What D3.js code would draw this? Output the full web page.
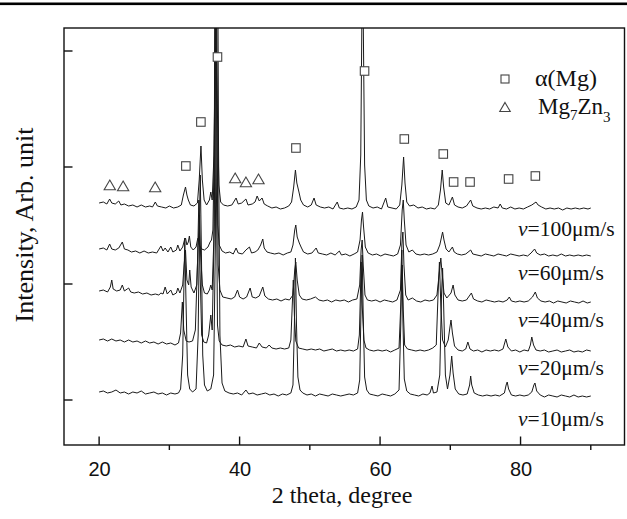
<!DOCTYPE html>
<html><head><meta charset="utf-8">
<script src="https://cdn.jsdelivr.net/npm/d3@7"></script>
<style>body{margin:0;background:#fff}svg{display:block}</style>
</head><body>
<svg id="c" width="627" height="519"></svg>
<script>
// ---- data (2theta in degrees, intensity in arbitrary units, traces offset) ----
const xMajorTicks = [20, 40, 60, 80];
const xMinorTicks = [30, 50, 70, 90];
const yTicks = [45, 161, 278, 394];
const speeds = ["100", "60", "40", "20", "10"];

const trace10 = [[20,53],[20.6,54],[21.2,52],[21.8,53],[22.4,55],[23,52],[23.6,53],[24.2,51],[24.8,53],[25.4,52],[26,54],[26.6,51],[27.2,52],[27.8,53],[28.4,51],[29,52],[29.6,50],[30.2,52],[30.8,51],[31.3,52],[31.6,56],[31.9,90],[32.1,170],[32.2,207],[32.35,150],[32.6,70],[32.9,56],[33.3,53],[33.8,56],[34.1,110],[34.3,230],[34.4,270],[34.55,200],[34.75,90],[35,60],[35.4,54],[35.9,56],[36.3,70],[36.55,200],[36.75,520],[36.85,560],[37,300],[37.2,110],[37.5,62],[37.9,54],[38.5,52],[39.1,51],[39.7,52],[40.3,50],[40.9,55],[41.3,51],[41.9,52],[42.5,50],[43.1,51],[43.7,52],[44.3,50],[44.9,51],[45.5,49],[46.1,51],[46.7,50],[47.3,52],[47.6,60],[47.8,120],[47.95,187],[48.1,120],[48.3,68],[48.6,55],[49,52],[49.6,50],[50.2,51],[50.8,49],[51.4,51],[52,50],[52.6,49],[53.2,51],[53.8,50],[54.4,49],[55,50],[55.6,51],[56.2,50],[56.8,52],[57.1,65],[57.3,140],[57.45,190],[57.6,130],[57.8,68],[58.1,55],[58.5,51],[59.1,50],[59.7,49],[60.3,51],[60.9,50],[61.5,49],[62.1,51],[62.7,55],[62.95,120],[63.1,195],[63.25,125],[63.45,66],[63.8,54],[64.3,51],[64.9,50],[65.5,49],[66.1,51],[66.7,50],[67.1,52],[67.4,59],[67.6,52],[68.1,53],[68.5,70],[68.75,150],[68.9,177],[69.05,140],[69.3,70],[69.6,56],[69.95,70],[70.2,89],[70.4,72],[70.7,56],[71.2,51],[71.8,50],[72.4,51],[72.75,60],[72.9,69],[73.05,60],[73.4,52],[74,50],[74.6,49],[75.2,50],[75.8,49],[76.4,50],[77,49],[77.7,52],[77.95,60],[78.1,63],[78.3,56],[78.7,50],[79.3,49],[79.9,50],[80.5,49],[81.1,50],[81.6,53],[81.9,60],[82.05,62],[82.3,54],[82.8,50],[83.4,48],[84,50],[84.6,49],[85.2,48],[85.8,50],[86.4,49],[87,48],[87.6,50],[88.2,48],[88.8,49],[89.4,48],[90,49]];

const trace20 = [[20,105],[20.6,106],[21.2,104],[21.8,106],[22.4,104],[23,105],[23.6,103],[24.2,105],[24.8,103],[25.4,104],[26,102],[26.6,104],[27.2,102],[27.8,103],[28.4,101],[29,103],[29.6,101],[30.2,102],[30.8,100],[31.3,102],[31.6,112],[31.85,143],[32.05,115],[32.4,104],[32.8,103],[33.3,104],[33.7,115],[34.0,180],[34.2,245],[34.35,180],[34.6,110],[34.9,103],[35.3,102],[35.6,110],[35.9,130],[36.1,115],[36.35,200],[36.5,500],[36.65,300],[36.85,120],[37.1,104],[37.5,100],[38.1,99],[38.7,100],[39.3,98],[39.9,99],[40.5,98],[40.9,106],[41.2,99],[41.8,98],[42.4,97],[42.8,102],[43.2,98],[43.8,97],[44.2,100],[44.6,97],[45.2,96],[45.8,97],[46.4,96],[47,97],[47.3,105],[47.5,140],[47.65,165],[47.8,130],[48,104],[48.4,97],[49,96],[49.6,95],[50.2,96],[50.8,95],[51.4,96],[52,94],[52.6,95],[53.2,96],[53.8,94],[54.4,95],[55,94],[55.6,95],[56.2,94],[56.8,96],[57.05,110],[57.2,150],[57.3,183],[57.45,140],[57.7,105],[58,97],[58.5,95],[59.1,94],[59.7,95],[60.3,94],[60.9,95],[61.5,93],[62.1,95],[62.7,97],[62.95,140],[63.15,180],[63.3,135],[63.5,100],[63.9,96],[64.5,95],[65.1,94],[65.7,95],[66.3,94],[66.9,95],[67.5,97],[68,100],[68.25,150],[68.45,183],[68.65,140],[68.9,105],[69.3,98],[69.7,105],[69.95,118],[70.1,125],[70.3,112],[70.6,99],[71.1,95],[71.7,94],[72.2,96],[72.5,103],[72.8,96],[73.3,94],[73.9,95],[74.5,93],[75.1,95],[75.7,94],[76.3,95],[76.9,94],[77.5,96],[77.9,106],[78.2,98],[78.7,94],[79.3,95],[79.9,93],[80.5,95],[81.1,94],[81.4,100],[81.6,108],[81.85,100],[82.2,95],[82.8,94],[83.4,95],[84,93],[84.6,94],[85.2,95],[85.8,93],[86.4,94],[87,95],[87.6,93],[88.2,94],[88.8,93],[89.4,95],[90,94]];

const trace40 = [[20,154],[20.6,155],[21.2,153],[21.6,158],[21.8,165],[22,156],[22.5,154],[23,155],[23.3,160],[23.6,154],[24,156],[24.2,157],[24.5,153],[25,152],[25.6,153],[26.2,151],[26.8,152],[27.4,150],[28,151],[28.5,150],[28.8,152],[29.1,151],[29.4,158],[29.7,151],[30.2,155],[30.5,150],[31,152],[31.2,157],[31.5,152],[31.9,160],[32.1,180],[32.3,195],[32.5,165],[32.75,160],[32.9,175],[33.1,158],[33.5,152],[33.9,160],[34.1,200],[34.3,230],[34.45,190],[34.7,160],[35,152],[35.4,151],[35.7,155],[35.9,160],[36.1,155],[36.4,220],[36.6,450],[36.75,350],[36.95,180],[37.2,155],[37.6,148],[38.2,147],[38.8,146],[39.3,148],[39.7,155],[40,148],[40.5,146],[41,148],[41.5,157],[41.8,148],[42.3,147],[42.8,149],[43.3,158],[43.6,149],[44.1,146],[44.7,145],[45.3,146],[45.9,144],[46.5,146],[47.1,145],[47.6,150],[47.85,175],[48.0,183],[48.2,165],[48.5,150],[48.9,146],[49.5,145],[50.1,146],[50.8,148],[51.3,145],[51.9,144],[52.5,145],[53.1,143],[53.7,145],[54.3,144],[54.9,145],[55.5,143],[56.1,145],[56.7,146],[57.1,160],[57.3,195],[57.45,205],[57.6,180],[57.85,150],[58.2,145],[58.8,144],[59.4,145],[60,143],[60.6,145],[61.2,144],[61.8,143],[62.4,145],[62.9,155],[63.1,200],[63.25,213],[63.4,180],[63.65,150],[64,145],[64.6,147],[65.2,144],[65.8,143],[66.4,145],[67,144],[67.6,145],[68.1,150],[68.4,170],[68.65,187],[68.85,170],[69.1,152],[69.5,147],[70.1,152],[70.4,160],[70.65,150],[71.1,145],[71.7,144],[72.3,145],[73.0,152],[73.3,146],[73.9,144],[74.5,143],[75.1,145],[75.7,144],[76.3,143],[76.9,144],[77.5,143],[78.1,145],[78.4,148],[78.7,144],[79.3,143],[79.9,144],[80.5,143],[81.1,144],[81.7,148],[82.1,153],[82.4,147],[82.9,144],[83.5,143],[84.1,144],[84.7,142],[85.3,144],[85.9,143],[86.5,142],[87.1,144],[87.7,143],[88.3,142],[88.9,144],[89.5,142],[90,143]];

const trace60 = [[20,196],[20.6,197],[21.1,195],[21.5,201],[21.8,196],[22.3,195],[22.8,197],[23.3,203],[23.6,196],[24.1,195],[24.6,193],[25.2,194],[25.8,192],[26.4,194],[27,192],[27.6,193],[28.2,192],[28.8,199],[29.1,194],[29.4,197],[29.8,193],[30.2,198],[30.5,193],[31,195],[31.2,200],[31.5,194],[31.9,198],[32.15,205],[32.3,207],[32.5,200],[32.7,203],[32.85,209],[33.05,198],[33.4,195],[33.8,198],[34.0,205],[34.1,207],[34.25,200],[34.6,196],[35,195],[35.5,198],[35.8,203],[36.0,205],[36.2,215],[36.4,300],[36.55,450],[36.7,380],[36.9,220],[37.1,200],[37.5,194],[38,192],[38.6,193],[39.1,191],[39.5,197],[39.8,192],[40.4,191],[40.9,195],[41.4,198],[41.7,192],[42.2,193],[42.6,195],[43.0,200],[43.3,206],[43.5,197],[43.9,193],[44.4,192],[45,191],[45.6,192],[46.2,190],[46.8,192],[47.3,193],[47.6,200],[47.85,215],[48.0,220],[48.2,208],[48.5,202],[48.75,198],[49.1,193],[49.7,191],[50.3,192],[50.9,197],[51.2,192],[51.8,191],[52.4,190],[53,192],[53.6,190],[54.2,194],[54.5,190],[55.1,191],[55.7,189],[56.3,191],[56.8,193],[57.15,205],[57.35,225],[57.5,233],[57.65,218],[57.9,198],[58.3,192],[58.9,190],[59.5,191],[60.1,189],[60.7,191],[61.3,190],[61.9,189],[62.5,191],[62.9,200],[63.15,235],[63.3,245],[63.45,225],[63.7,200],[64.1,193],[64.6,195],[65.1,191],[65.7,190],[66.3,191],[66.9,190],[67.5,191],[68.1,193],[68.5,200],[68.75,208],[68.9,213],[69.1,205],[69.4,196],[69.8,193],[70.1,196],[70.3,198],[70.55,193],[71,191],[71.6,190],[72.2,191],[72.9,195],[73.2,191],[73.8,190],[74.4,189],[75,191],[75.6,190],[76.2,189],[76.8,191],[77.4,190],[78,189],[78.6,191],[79.2,190],[79.8,189],[80.4,190],[81,189],[81.5,192],[82,196],[82.3,192],[82.8,190],[83.4,191],[84,189],[84.6,190],[85.2,189],[85.8,191],[86.4,189],[87,190],[87.6,189],[88.2,190],[88.8,189],[89.4,190],[90,189]];

const trace100 = [[20,242],[20.6,243],[21.1,241],[21.5,246],[21.8,242],[22.3,241],[22.8,244],[23.1,240],[23.6,241],[24.2,239],[24.8,240],[25.4,238],[26,240],[26.6,238],[27.2,239],[27.6,238],[28.0,243],[28.3,239],[28.9,238],[29.5,237],[30,239],[30.6,237],[31.2,238],[31.7,240],[32.0,250],[32.3,258],[32.5,250],[32.7,245],[33,240],[33.5,239],[34,242],[34.25,265],[34.5,299],[34.7,265],[34.95,245],[35.3,240],[35.7,245],[35.9,253],[36.1,245],[36.35,290],[36.6,440],[36.7,480],[36.85,330],[37.05,260],[37.3,243],[37.7,240],[38.3,239],[38.9,240],[39.5,247],[39.8,241],[40.3,242],[40.9,246],[41.2,240],[41.8,241],[42.2,243],[42.5,249],[42.8,244],[43.2,247],[43.5,241],[44,239],[44.6,237],[45.2,238],[45.8,236],[46.4,237],[47,239],[47.4,243],[47.7,258],[47.95,275],[48.15,262],[48.45,253],[48.7,245],[49.1,240],[49.7,238],[50.2,240],[50.6,247],[50.9,240],[51.5,238],[52.1,237],[52.7,238],[53.3,236],[53.9,243],[54.2,237],[54.8,236],[55.4,237],[56,236],[56.6,238],[57,245],[57.25,290],[57.45,460],[57.6,430],[57.8,280],[58.05,245],[58.4,239],[59,237],[59.6,238],[60.2,236],[60.8,247],[61.1,238],[61.7,237],[62.3,236],[62.8,240],[63.1,260],[63.35,288],[63.55,262],[63.8,243],[64.2,239],[64.8,240],[65.4,237],[66,238],[66.6,236],[67.2,237],[67.8,236],[68.3,240],[68.6,255],[68.85,275],[69.05,258],[69.35,242],[69.8,240],[70.3,248],[70.6,240],[71.1,238],[71.7,237],[72.3,239],[72.9,245],[73.2,239],[73.8,237],[74.4,236],[75,237],[75.6,236],[76.2,238],[76.8,237],[77.1,241],[77.4,237],[78,236],[78.6,238],[79.2,236],[79.8,237],[80.4,236],[81,238],[81.6,240],[82.2,243],[82.5,240],[83,238],[83.6,236],[84.2,237],[84.8,236],[85.4,237],[86,235],[86.6,237],[87.2,236],[87.8,237],[88.4,236],[89,237],[89.6,236],[90,237]];

const traces = [trace100, trace60, trace40, trace20, trace10];

// phase markers [2theta, intensity]
const alphaMgPeaks = [[32.35,279],[34.49,323],[36.85,388],[48.02,297],[57.79,374],[63.45,306],[69.0,291],[70.47,263],[72.81,263],[78.3,266],[82.11,269]];
const mg7zn3Peaks = [[21.52,259],[23.42,258],[27.98,257],[39.37,266],[40.9,262],[42.69,265]];

// ---- layout ----
const W = 627, H = 519;
const L = 64, R = 624.5, T = 28, B = 445;
const serif = "Liberation Serif, Times New Roman, serif";
const svg = d3.select("#c");

const x = d3.scaleLinear().domain([15, 94.8]).range([L, R]);
const y = d3.scaleLinear().domain([0, 417]).range([B, T]);

// top rule
svg.append("rect").attr("x", 0).attr("y", 2.5).attr("width", W).attr("height", 2.6).attr("fill", "#000");

svg.append("defs").append("clipPath").attr("id", "pa")
  .append("rect").attr("x", L).attr("y", T).attr("width", R - L).attr("height", B - T);

const line = d3.line().x(d => x(d[0])).y(d => y(d[1]));
const g = svg.append("g").attr("clip-path", "url(#pa)");
g.selectAll("path.tr").data(traces).join("path")
  .attr("class", "tr")
  .attr("d", line)
  .attr("fill", "none")
  .attr("stroke", "#1a1a1a")
  .attr("stroke-width", 1)
  .attr("stroke-linejoin", "round");

// markers
const sq = 8.5;
svg.selectAll("rect.am").data(alphaMgPeaks).join("rect")
  .attr("class", "am")
  .attr("x", d => x(d[0]) - sq / 2).attr("y", d => y(d[1]) - sq / 2)
  .attr("width", sq).attr("height", sq)
  .attr("fill", "#fff").attr("stroke", "#444").attr("stroke-width", 1.1);

const tri = d3.symbol().type(d3.symbolTriangle).size(55);
svg.selectAll("path.mz").data(mg7zn3Peaks).join("path")
  .attr("class", "mz")
  .attr("transform", d => `translate(${x(d[0])},${y(d[1]) + 0.5})`)
  .attr("d", tri)
  .attr("fill", "#fff").attr("stroke", "#444").attr("stroke-width", 1.1);

// frame
svg.append("rect").attr("x", L).attr("y", T).attr("width", R - L).attr("height", B - T)
  .attr("fill", "none").attr("stroke", "#111").attr("stroke-width", 1.4);

// x axis ticks (major inward, minor outward)
const xAxis = svg.append("g");
xAxis.selectAll("line.maj").data(xMajorTicks).join("line")
  .attr("x1", d => x(d)).attr("x2", d => x(d)).attr("y1", B).attr("y2", B - 8.5)
  .attr("stroke", "#111").attr("stroke-width", 1.4);
xAxis.selectAll("line.min").data(xMinorTicks).join("line")
  .attr("x1", d => x(d)).attr("x2", d => x(d)).attr("y1", B).attr("y2", B + 5)
  .attr("stroke", "#111").attr("stroke-width", 1.4);
xAxis.selectAll("text").data(xMajorTicks).join("text")
  .attr("x", d => x(d) + 0.5).attr("y", 476)
  .attr("text-anchor", "middle")
  .attr("font-family", "Liberation Sans, Arial, sans-serif").attr("font-size", 20)
  .attr("fill", "#111")
  .text(d => d);

// y axis ticks (inward)
svg.append("g").selectAll("line").data(yTicks).join("line")
  .attr("x1", L).attr("x2", L + 8.5).attr("y1", d => y(d)).attr("y2", d => y(d))
  .attr("stroke", "#111").attr("stroke-width", 1.4);

// axis titles
svg.append("text").attr("x", 342).attr("y", 503).attr("text-anchor", "middle")
  .attr("font-family", serif).attr("font-size", 24)
  .attr("fill", "#111").text("2 theta, degree");
svg.append("text").attr("transform", "translate(33,225) rotate(-90)").attr("text-anchor", "middle")
  .attr("font-family", serif).attr("font-size", 26)
  .attr("fill", "#111").text("Intensity,  Arb. unit");

// speed labels
const labelY = [236, 280, 327, 375, 426];
speeds.forEach((s, i) => {
  const t = svg.append("text").attr("x", 518).attr("y", labelY[i])
    .attr("font-family", serif).attr("font-size", 21.5)
    .attr("fill", "#111");
  t.append("tspan").attr("font-style", "italic").text("v");
  t.append("tspan").text("=" + s + "μm/s");
});

// legend
const lg = svg.append("g");
lg.append("rect").attr("x", 505 - 4).attr("y", 79 - 4).attr("width", 8).attr("height", 8)
  .attr("fill", "#fff").attr("stroke", "#444").attr("stroke-width", 1.1);
lg.append("path").attr("transform", "translate(505,108.5)").attr("d", d3.symbol().type(d3.symbolTriangle).size(48))
  .attr("fill", "#fff").attr("stroke", "#444").attr("stroke-width", 1.1);
lg.append("text").attr("x", 535).attr("y", 86)
  .attr("font-family", serif).attr("font-size", 24)
  .attr("fill", "#111").text("α(Mg)");
const t2 = lg.append("text").attr("x", 538).attr("y", 114)
  .attr("font-family", serif).attr("font-size", 23)
  .attr("fill", "#111");
t2.append("tspan").text("Mg");
t2.append("tspan").attr("font-size", 15).attr("dy", 6).text("7");
t2.append("tspan").attr("dy", -6).text("Zn");
t2.append("tspan").attr("font-size", 15).attr("dy", 8).text("3");
</script>
</body></html>
